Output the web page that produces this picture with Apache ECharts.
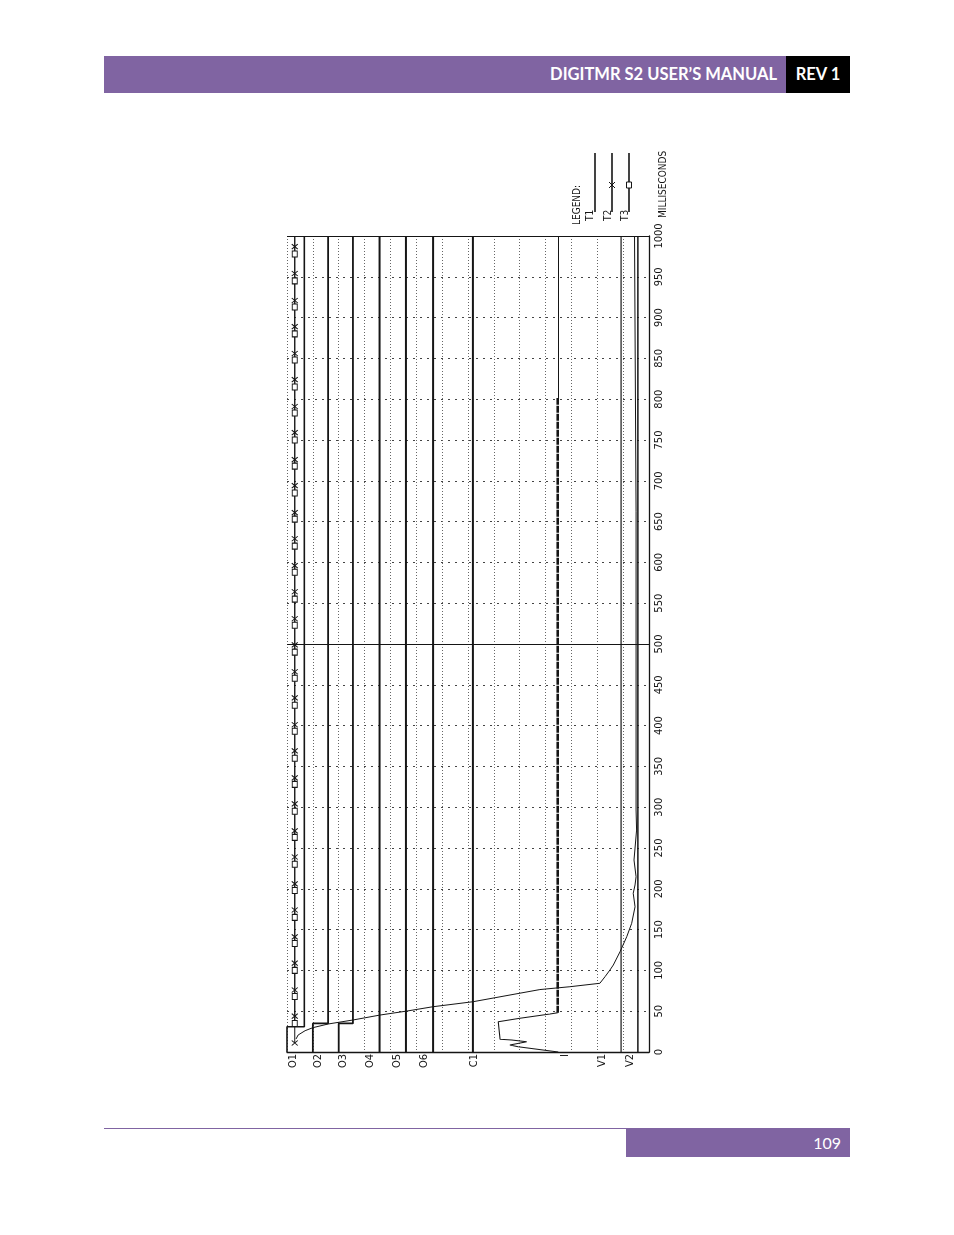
<!DOCTYPE html>
<html>
<head>
    <meta charset="utf-8">
    <title>DIGITMR S2 USER’S MANUAL - 109</title>
    <script src="https://cdn.jsdelivr.net/npm/echarts@6/dist/echarts.min.js"></script>
    <style>
        html, body {margin: 0; padding: 0; background: #fff;}
        body {width: 954px; height: 1235px; position: relative; overflow: hidden; font-family: Lato, "Open Sans", sans-serif;}
        .hdr {position: absolute; left: 104px; top: 56px; width: 682px; height: 37px; background: #8064a2; color: #fff;
            font-weight: 700; font-size: 16.5px; line-height: 37px; text-align: right; box-sizing: border-box; padding-right: 9px;}
        .rev {position: absolute; left: 786px; top: 56px; width: 64px; height: 37px; background: #000; color: #fff;
            font-weight: 700; font-size: 16.5px; line-height: 37px; text-align: center;}
        .rule {position: absolute; left: 104px; top: 1128px; width: 746px; height: 1px; background: #8064a2;}
        .pg {position: absolute; left: 626px; top: 1128px; width: 224px; height: 29px; background: #8064a2; color: #fff;
            font-size: 16px; line-height: 29px; text-align: right; box-sizing: border-box; padding-right: 9px;}
        #chart {position: absolute; left: 0; top: 0; width: 954px; height: 1235px;}
    </style>
</head>
<body>
<div id="chart"></div>
<div class="hdr">DIGITMR S2 USER’S MANUAL</div>
<div class="rev">REV 1</div>
<div class="rule"></div>
<div class="pg">109</div>

<script type="text/javascript">
    // time axis (ms) and channel amplitude axis (one grid division per unit)
    const timeMin = 0, timeMax = 1000, timeStep = 50;
    const ampMin = 0, ampMax = 14;

    // channel labels under the plot and where they sit on the amplitude axis
    const channelNames = ['O1', 'O2', 'O3', 'O4', 'O5', 'O6', 'C1', 'I', 'V1', 'V2'];
    const channelLabelAt = [0.23, 1.2, 2.17, 3.21, 4.25, 5.3, 7.23, 10.75, 12.18, 13.26];

    // contact channels: [amplitude, ms]
    const o1T1 = [[0, 0], [0, 31], [0.67, 31], [0.67, 1000]];
    const o2T1 = [[1, 0], [1, 35], [1.59, 35], [1.59, 1000]];
    const o3T1 = [[2, 0], [2, 35], [2.55, 35], [2.55, 1000]];
    const o4T1 = [[3.58, 0], [3.58, 1000]];
    const o5T1 = [[4.6, 0], [4.6, 1000]];
    const o6T1 = [[5.65, 0], [5.65, 1000]];
    const c1T1 = [[7.19, 0], [7.19, 1000]];

    // T2 / T3 marker times on channel O1 (ms)
    const o1T2Times = [11, 44, 76, 109, 141, 174, 206, 239, 271, 304, 336, 369, 401, 434, 466, 499,
        531, 564, 596, 629, 661, 694, 726, 759, 791, 824, 856, 889, 921, 954, 987];
    const o1T3Times = [35, 68, 100, 133, 165, 198, 230, 263, 295, 328, 360, 393, 425, 458, 490,
        523, 555, 588, 620, 653, 685, 718, 750, 783, 815, 848, 880, 913, 945, 978];
    const o1T23Level = 0.3;

    // coil current
    const coilRise = [[10.49, 0], [8.94, 6.5], [8.62, 8.6], [9.27, 12.6], [8.69, 14.7], [8.24, 15.6],
        [8.17, 37.1], [9.01, 41.3], [10.17, 46.6], [10.47, 48.2]];
    const coilHold = [[10.47, 48.2], [10.47, 801.5]];
    const coilTail = [[10.5, 801.5], [10.5, 1000]];

    // voltages
    const v1Trace = [[12.92, 0], [12.92, 1000]];
    const v2Trace = [[13.57, 0], [13.57, 1000]];

    // travel curve
    const travel = [[0.35, 16], [0.43, 20.8], [0.7, 26.1], [1.0, 29.8], [1.59, 34.3], [2.55, 39.2],
        [3.6, 45.3], [4.64, 50.2], [5.65, 55.5], [7.19, 61.6], [9.78, 76.5], [10.94, 80],
        [12.1, 84.2], [12.3, 92.3], [12.49, 100.5], [12.62, 106.6], [12.88, 122.9], [13.14, 141.3],
        [13.33, 157.7], [13.46, 178], [13.39, 194.5], [13.46, 204.7], [13.5, 214.8], [13.42, 235.3],
        [13.52, 272], [13.5, 296.6], [13.5, 662], [13.44, 662], [13.44, 1000]];

    const ink = '#151515';
    const plotFont = '"Liberation Sans Narrow", "DejaVu Sans Condensed", "Roboto", sans-serif';
    const crossPath = 'path://M0,0L10,10M10,0L0,10';

    function trace(data, width, extra) {
        return Object.assign({
            type: 'line',
            data: data,
            symbol: 'none',
            silent: true,
            animation: false,
            lineStyle: {color: ink, width: width}
        }, extra || {});
    }

    function markerTrace(times, symbol, size) {
        const pts = times.map(t => [o1T23Level, t]);
        pts.push({value: [o1T23Level, 1000], symbol: 'none'});
        return trace(pts, 1, {
            symbol: symbol,
            symbolSize: size,
            showAllSymbol: true,
            itemStyle: {color: '#fff', borderColor: ink, borderWidth: 1}
        });
    }

    const chart = echarts.init(document.getElementById('chart'));

    const option = {
        backgroundColor: '#fff',
        animation: false,
        grid: {left: 287, right: 305, top: 236, bottom: 183},
        xAxis: {
            type: 'value',
            min: ampMin,
            max: ampMax,
            interval: 1,
            axisLine: {show: true, onZero: false, lineStyle: {color: ink, width: 1.3}},
            axisTick: {show: false},
            axisLabel: {show: false},
            splitLine: {show: true, lineStyle: {color: '#666', type: [1, 2], width: 1}}
        },
        yAxis: {
            type: 'value',
            position: 'right',
            min: timeMin,
            max: timeMax,
            interval: timeStep,
            axisLine: {show: true, onZero: false, lineStyle: {color: ink, width: 1.3}},
            axisTick: {show: false},
            axisLabel: {
                rotate: 90, margin: 5, fontSize: 11, color: ink, fontFamily: plotFont,
                formatter: function (v) { return String(v); }
            },
            splitLine: {show: true, lineStyle: {color: '#444', type: [2, 5], width: 1}}
        },
        series: [
            trace(o1T1, 1.6, {
                markLine: {
                    silent: true,
                    symbol: 'none',
                    label: {show: false},
                    lineStyle: {color: ink, type: 'solid', width: 1.2},
                    data: [{yAxis: 500}, {yAxis: 1000}]
                }
            }),
            markerTrace(o1T2Times, crossPath, [6, 5]),
            markerTrace(o1T3Times, 'rect', [5, 6]),
            trace(o2T1, 1.8),
            trace(o3T1, 1.8),
            trace(o4T1, 2),
            trace(o5T1, 2),
            trace(o6T1, 2),
            trace(c1T1, 2),
            trace(coilRise, 1.1),
            trace(coilHold, 2.6, {lineStyle: {color: ink, width: 2.6, type: [7, 1]}}),
            trace(coilTail, 1),
            trace(v1Trace, 1.2),
            trace(v2Trace, 1.5),
            trace(travel, 1)
        ]
    };
    chart.setOption(option);

    // labels under the plot, legend and axis name (rotated like the printout)
    const graphics = channelNames.map(function (name, i) {
        const p = chart.convertToPixel({gridIndex: 0}, [channelLabelAt[i], 0]);
        return {
            type: 'text', x: p[0], y: p[1] + 2, rotation: Math.PI / 2, silent: true,
            style: {text: name, fill: ink, font: '11px ' + plotFont, align: 'right', verticalAlign: 'middle'}
        };
    });

    function vText(text, x, y, align) {
        return {
            type: 'text', x: x, y: y, rotation: Math.PI / 2, silent: true,
            style: {text: text, fill: ink, font: '10px ' + plotFont, align: align, verticalAlign: 'middle'}
        };
    }

    graphics.push(vText('LEGEND:', 577, 225, 'left'));
    graphics.push(vText('T1', 590, 221, 'left'));
    graphics.push(vText('T2', 608, 221, 'left'));
    graphics.push(vText('T3', 625, 221, 'left'));
    graphics.push(vText('MILLISECONDS', 663, 218, 'left'));
    [595, 612, 629].forEach(function (x) {
        graphics.push({type: 'line', silent: true, shape: {x1: x, y1: 153, x2: x, y2: 212},
            style: {stroke: ink, lineWidth: 1.6}});
    });
    graphics.push({type: 'line', silent: true, shape: {x1: 609, y1: 182, x2: 615, y2: 188}, style: {stroke: ink, lineWidth: 1}});
    graphics.push({type: 'line', silent: true, shape: {x1: 615, y1: 182, x2: 609, y2: 188}, style: {stroke: ink, lineWidth: 1}});
    graphics.push({type: 'rect', silent: true, shape: {x: 626.5, y: 182, width: 5, height: 6},
        style: {fill: '#fff', stroke: ink, lineWidth: 1}});

    chart.setOption({graphic: graphics});
</script>
</body>
</html>
